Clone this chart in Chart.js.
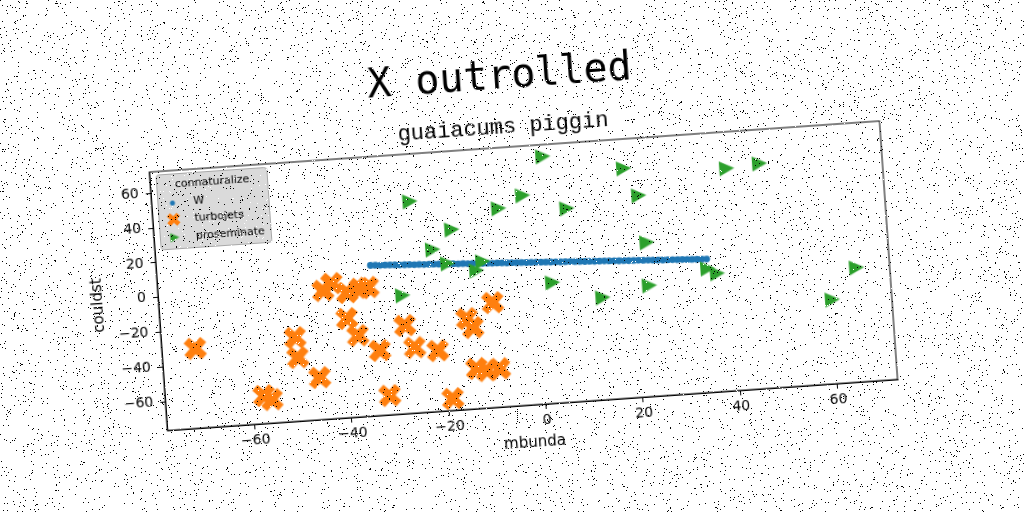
<!DOCTYPE html>
<html>
<head>
<meta charset="utf-8">
<script src="https://cdn.jsdelivr.net/npm/chart.js@4.4.0/dist/chart.umd.min.js"></script>
<style>
html, body { margin: 0; padding: 0; background: #fff; overflow: hidden; }
#wrap { position: absolute; left: 0; top: 0; width: 1024px; height: 512px; transform: rotate(-4deg); transform-origin: 512px 256px; }
#noise { position: absolute; left: 0; top: 0; pointer-events: none; }
</style>
</head>
<body>
<div id="wrap"><canvas id="myChart" width="1024" height="512"></canvas></div>
<canvas id="noise" width="1024" height="512"></canvas>
<script>
const seriesNames = ['W', 'turbojets', 'proseminate'];
const legendTitle = 'connaturalize';

const wX = [-34, -33, -32, -31, -30, -29, -28, -27, -26, -25, -24, -23, -22, -21, -20, -19, -18, -17,
    -16, -15, -14, -13, -12, -11, -10, -9, -8, -7, -6, -5, -4, -3, -2, -1, 0, 1, 2, 3, 4, 5, 6, 7, 8,
    9, 10, 11, 12, 13, 14, 15, 16, 17, 18, 19, 20, 21, 22, 23, 24, 25, 26, 27, 28, 29, 30, 31, 32, 33, 34, 35];
const wY = [9.9, 9.8, 9.6, 9.5, 9.4, 9.2, 9.0, 8.9, 8.8, 8.6, 8.5, 8.3, 8.2, 8.1, 7.9, 7.8, 7.6, 7.5,
    7.3, 7.2, 7.0, 6.9, 6.8, 6.6, 6.5, 6.3, 6.2, 6.1, 5.9, 5.8, 5.6, 5.5, 5.3, 5.2, 5.1, 4.9, 4.8, 4.6, 4.5, 4.3, 4.2, 4.1, 3.9,
    3.8, 3.6, 3.5, 3.3, 3.2, 3.1, 2.9, 2.8, 2.6, 2.5, 2.3, 2.2, 2.1, 1.9, 1.8, 1.6, 1.5, 1.3, 1.2, 1.1, 0.9, 0.8, 0.6, 0.5, 0.3, 0.2, 0.1];

const turbX = [-71.1, -50.5, -50.2, -46.0, -57.7, -56.1, -44.1, -42.2, -39.2, -36.5, -34.8, -39.6, -37.6,
    -33.3, -27.8, -26.1, -21.4, -31.9, -19.0, -9.5, -15.0, -13.9, -13.7, -11.7, -9.0];
const turbY = [-30.7, -28.4, -40.0, -52.3, -60.4, -63.0, -2.6, 1.1, -4.7, -2.9, -2.6, -19.6, -29.8,
    -39.2, -25.9, -38.9, -41.6, -65.4, -69.7, -16.3, -24.4, -29.8, -53.4, -55.0, -54.4];

const prosX = [2.9, 19.3, 40.4, 47.2, -25.0, -1.8, -6.9, 7.1, 22.0, -16.8, -21.0, 23.0, -18.1, -10.9,
    -12.3, 3.1, 22.9, 13.2, -27.8, 35.1, 37.0, 65.6, 60.2];
const prosY = [65.4, 55.3, 51.2, 52.7, 45.0, 43.9, 37.4, 34.7, 39.2, 27.2, 16.5, 12.0, 7.9, 7.7,
    2.7, -7.2, -12.8, -17.8, -8.6, -5.4, -8.6, -10.8, -28.2];

const xTicks = [-60, -40, -20, 0, 20, 40, 60];
const yTicks = [-60, -40, -20, 0, 20, 40, 60];
const xRange = [-78, 72.4];
const yRange = [-76.5, 72.2];

const colors = ['#1f77b4', '#ff7f0e', '#2ca02c'];

function pts(xs, ys) {
    return xs.map((x, i) => ({x: x, y: ys[i]}));
}

// filled "X" marker like matplotlib
function xMarker(size, color) {
    const c = document.createElement('canvas');
    const d = Math.ceil(size) + 2;
    c.width = d; c.height = d;
    const g = c.getContext('2d');
    const u = size / 6;
    g.translate(d / 2, d / 2);
    g.rotate(Math.PI / 4);
    const p = [[-1,-3],[1,-3],[1,-1],[3,-1],[3,1],[1,1],[1,3],[-1,3],[-1,1],[-3,1],[-3,-1],[-1,-1]];
    g.beginPath();
    p.forEach((v, i) => i ? g.lineTo(v[0] * u, v[1] * u) : g.moveTo(v[0] * u, v[1] * u));
    g.closePath();
    g.fillStyle = color;
    g.fill();
    return c;
}

// right pointing triangle
function triMarker(size, color) {
    const c = document.createElement('canvas');
    const d = Math.ceil(size) + 2;
    c.width = d; c.height = d;
    const g = c.getContext('2d');
    const h = size / 2, m = d / 2;
    g.beginPath();
    g.moveTo(m + h, m);
    g.lineTo(m - h, m - h);
    g.lineTo(m - h, m + h);
    g.closePath();
    g.fillStyle = color;
    g.fill();
    return c;
}

const bigX = xMarker(24, colors[1]);
const bigTri = triMarker(15, colors[2]);
const smallX = xMarker(14, colors[1]);
const smallTri = triMarker(9, colors[2]);

function fmt(v) {
    return v < 0 ? '\u2212' + Math.abs(v) : String(v);
}

const frameAndLegend = {
    id: 'frameAndLegend',
    beforeDraw(chart) {
        const ctx = chart.ctx;
        ctx.save();
        ctx.fillStyle = '#fff';
        ctx.fillRect(0, 0, chart.width, chart.height);
        ctx.restore();
    },
    afterDraw(chart) {
        const ctx = chart.ctx, a = chart.chartArea;
        ctx.save();
        ctx.strokeStyle = '#000';
        ctx.lineWidth = 1;
        ctx.strokeRect(a.left, a.top, a.right - a.left, a.bottom - a.top);

        const x0 = a.left + 6.5, y0 = a.top + 3.5, w = 111, h = 75;
        ctx.beginPath();
        ctx.roundRect(x0, y0, w, h, 3);
        ctx.fillStyle = 'rgba(211, 211, 211, 0.85)';
        ctx.fill();
        ctx.strokeStyle = '#a8a8a8';
        ctx.stroke();

        ctx.fillStyle = '#000';
        ctx.font = '11px "DejaVu Sans"';
        ctx.textBaseline = 'middle';
        ctx.textAlign = 'center';
        ctx.fillText(legendTitle, x0 + w / 2, y0 + 11);

        ctx.textAlign = 'left';
        const rows = [y0 + 29, y0 + 45.5, y0 + 63.5];
        const mx = x0 + 14.5;
        ctx.beginPath();
        ctx.arc(mx, rows[0], 2.5, 0, Math.PI * 2);
        ctx.fillStyle = colors[0];
        ctx.fill();
        ctx.drawImage(smallX, mx - smallX.width / 2, rows[1] - smallX.height / 2);
        ctx.drawImage(smallTri, mx - smallTri.width / 2, rows[2] - smallTri.height / 2);
        ctx.fillStyle = '#000';
        seriesNames.forEach((n, i) => ctx.fillText(n, x0 + 35.5, rows[i]));
        ctx.restore();
    }
};

const tickFont = {family: 'DejaVu Sans', size: 14};
const labelFont = {family: 'DejaVu Sans', size: 15};

new Chart(document.getElementById('myChart'), {
    type: 'scatter',
    data: {
        datasets: [{
            label: seriesNames[0],
            data: pts(wX, wY),
            backgroundColor: colors[0],
            borderColor: colors[0],
            borderWidth: 0,
            pointRadius: 3.4,
            order: 3
        }, {
            label: seriesNames[1],
            data: pts(turbX, turbY),
            pointStyle: bigX,
            pointRadius: 11,
            order: 2
        }, {
            label: seriesNames[2],
            data: pts(prosX, prosY),
            pointStyle: bigTri,
            pointRadius: 8,
            order: 1
        }]
    },
    options: {
        responsive: false,
        animation: false,
        devicePixelRatio: 1,
        layout: {padding: 0},
        plugins: {
            legend: {display: false},
            tooltip: {enabled: false},
            title: {
                display: true,
                text: 'X outrolled',
                color: '#000',
                font: {family: 'DejaVu Sans Mono', size: 40, weight: 'normal'},
                padding: {top: 54, bottom: 0}
            },
            subtitle: {
                display: true,
                text: 'guaiacums piggin',
                color: '#000',
                font: {family: 'Liberation Mono', size: 22, weight: 'normal'},
                padding: {top: 11.8, bottom: 6.8}
            }
        },
        scales: {
            x: {
                type: 'linear',
                min: xRange[0],
                max: xRange[1],
                afterBuildTicks: s => { s.ticks = xTicks.map(v => ({value: v})); },
                afterFit: s => { s.height = 106; },
                grid: {drawOnChartArea: false, drawTicks: true, tickLength: 5, color: '#000'},
                border: {display: true, color: '#000', width: 1},
                ticks: {color: '#000', font: tickFont, padding: 3, maxRotation: 0, callback: v => fmt(v)},
                title: {display: true, text: 'mbunda', color: '#000', font: labelFont, padding: {top: 0, bottom: 59}}
            },
            y: {
                type: 'linear',
                min: yRange[0],
                max: yRange[1],
                afterBuildTicks: s => { s.ticks = yTicks.map(v => ({value: v})); },
                afterFit: s => { s.width = 156; },
                grid: {drawOnChartArea: false, drawTicks: true, tickLength: 5, color: '#000'},
                border: {display: true, color: '#000', width: 1},
                ticks: {color: '#000', font: tickFont, padding: 7, callback: v => fmt(v)},
                title: {display: true, text: 'couldst', color: '#000', font: labelFont, padding: {top: 87, bottom: 0}}
            },
            // empty right margin so the titles stay centred on the page
            side: {
                type: 'linear',
                position: 'right',
                display: true,
                afterFit: s => { s.width = 136; },
                grid: {display: false},
                border: {display: false},
                ticks: {display: false}
            }
        }
    },
    plugins: [frameAndLegend]
});

// salt and pepper speckle like the scanned reference
(function speckle() {
    const c = document.getElementById('noise');
    const g = c.getContext('2d');
    const img = g.createImageData(c.width, c.height);
    let s = 20240611;
    for (let i = 0; i < img.data.length; i += 4) {
        s = (Math.imul(s, 1103515245) + 12345) >>> 0;
        const r = (s >>> 8) / 16777216;
        if (r < 0.022) {
            img.data[i + 3] = 255;
        } else if (r < 0.034) {
            img.data[i] = img.data[i + 1] = img.data[i + 2] = 255;
            img.data[i + 3] = 255;
        }
    }
    g.putImageData(img, 0, 0);
})();
</script>
</body>
</html>
